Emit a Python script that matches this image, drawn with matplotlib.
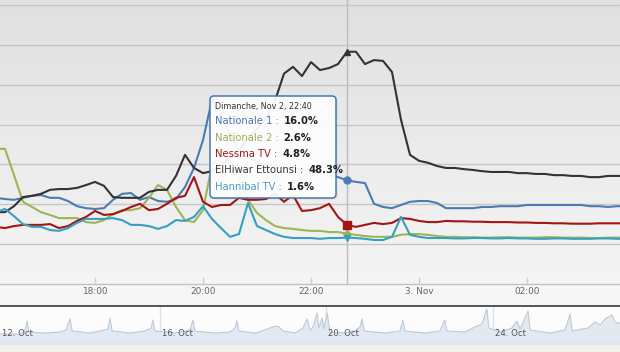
import numpy as np
import matplotlib
matplotlib.use("Agg")
import matplotlib.pyplot as plt
from matplotlib.patches import FancyBboxPatch, Rectangle
from matplotlib.lines import Line2D
from matplotlib.colors import LinearSegmentedColormap
import matplotlib.transforms as mtransforms

# ---------------- data ----------------
series_names = ["Nationale 1", "Nationale 2", "Nessma TV", "ElHiwar Ettounsi", "Hannibal TV"]

# 10-minute samples from 16:10 (2 Nov) to 03:50 (3 Nov), audience share in %
nationale1 = [11.6, 11.3, 11.1, 11.6, 12.1, 12.3,
              11.6, 11.6, 10.8, 9.5, 9.0, 8.8,
              9.0, 11.1, 12.6, 12.8, 11.1, 11.8,
              10.8, 10.6, 11.3, 14.3, 19.1, 26.1,
              36.3, 32.4, 27.4, 23.6, 21.6, 20.6,
              19.9, 19.9, 19.1, 19.1, 18.6, 18.1,
              17.8, 17.3, 16.8, 16.0, 15.6, 15.3,
              10.1, 9.3, 9.0, 9.8, 10.6, 10.8,
              10.8, 10.3, 9.0, 9.0, 9.0, 9.0,
              9.3, 9.3, 9.5, 9.5, 9.5, 9.8,
              9.8, 9.8, 9.8, 9.8, 9.8, 9.8,
              9.5, 9.5, 9.3, 9.5, 9.5]
nationale2 = [23.9, 23.9, 17.3, 10.6, 9.3, 8.0,
              7.3, 6.5, 6.5, 6.5, 5.5, 5.3,
              6.0, 7.5, 8.5, 8.5, 9.0, 11.6,
              14.8, 13.6, 9.3, 6.0, 5.5, 8.5,
              19.9, 23.6, 21.6, 16.1, 11.1, 7.8,
              6.0, 4.5, 4.0, 3.8, 3.5, 3.3,
              3.3, 3.0, 3.0, 2.6, 2.3, 2.0,
              1.8, 1.8, 1.8, 2.3, 2.5, 2.5,
              2.3, 2.0, 1.8, 1.8, 1.7, 1.7,
              1.6, 1.6, 1.7, 1.7, 1.6, 1.6,
              1.6, 1.7, 1.7, 1.6, 1.6, 1.6,
              1.5, 1.5, 1.6, 1.6, 1.6]
nessma = [4.3, 4.0, 4.5, 4.8, 4.8, 4.8,
          5.0, 4.0, 4.5, 5.8, 6.8, 8.3,
          7.3, 7.5, 8.3, 9.3, 10.1, 8.5,
          8.8, 10.1, 11.6, 12.1, 16.8, 10.6,
          9.3, 9.8, 9.8, 11.6, 11.1, 11.1,
          11.3, 12.6, 10.6, 12.3, 8.3, 8.5,
          9.0, 10.1, 6.8, 4.8, 4.3, 4.8,
          5.3, 5.0, 5.3, 6.5, 6.3, 5.8,
          5.5, 5.5, 5.8, 5.7, 5.7, 5.6,
          5.6, 5.5, 5.5, 5.5, 5.4, 5.4,
          5.3, 5.3, 5.2, 5.2, 5.1, 5.1,
          5.1, 5.2, 5.2, 5.2, 5.2]
elhiwar = [8.0, 8.0, 9.5, 11.8, 12.1, 12.6,
           13.6, 13.8, 13.8, 14.1, 14.8, 15.6,
           14.6, 11.8, 11.6, 11.6, 11.6, 13.1,
           13.6, 13.6, 17.1, 22.4, 19.1, 17.8,
           18.3, 19.9, 21.6, 23.6, 26.6, 29.0,
           31.5, 36.0, 42.8, 44.5, 42.2, 45.7,
           43.7, 44.2, 45.2, 48.3, 48.3, 45.2,
           46.2, 46.0, 43.2, 31.2, 22.4, 20.9,
           20.4, 19.6, 19.1, 19.1, 18.8, 18.6,
           18.3, 18.1, 18.1, 18.1, 17.8, 17.8,
           17.6, 17.6, 17.3, 17.3, 17.1, 17.1,
           16.8, 16.8, 17.1, 17.1, 17.1]
hannibal = [8.0, 8.8, 7.0, 5.0, 4.3, 4.3,
            3.5, 3.3, 4.0, 5.3, 6.3, 6.3,
            6.3, 6.5, 6.0, 4.8, 4.8, 4.5,
            3.8, 4.5, 6.0, 5.8, 6.8, 9.5,
            6.3, 4.0, 1.8, 2.5, 10.3, 4.5,
            3.5, 2.5, 1.8, 1.5, 1.5, 1.5,
            1.3, 1.5, 1.5, 1.6, 1.5, 1.3,
            1.0, 1.0, 1.8, 6.8, 2.3, 1.8,
            1.5, 1.5, 1.5, 1.4, 1.4, 1.5,
            1.5, 1.4, 1.4, 1.5, 1.4, 1.4,
            1.3, 1.3, 1.4, 1.4, 1.3, 1.3,
            1.3, 1.4, 1.4, 1.3, 1.3]

start_hour = 16 + 10 / 60.0
step_minutes = 10
hover_index = 39  # 22:40
tooltip_header = "Dimanche, Nov 2, 22:40"

x_tick_hours = [18, 20, 22, 24, 26]
x_tick_labels = ["18:00", "20:00", "22:00", "3. Nov", "02:00"]
y_grid = [0, 10, 20, 30, 40, 50, 60]

# navigator (days since 12 Oct 00:00) and relative level
nav_days = [-0.08, 0.64, 0.76, 0.81, 0.85, 1.24, 1.60, 1.74, 1.84, 1.89,
            2.32, 2.56, 2.75, 2.80, 2.85, 3.28, 3.64, 3.79, 3.83, 3.88,
            4.36, 4.72, 4.80, 4.84, 5.32, 5.68, 5.81, 5.85, 5.90, 6.29,
            6.53, 6.69, 6.84, 6.96, 7.25, 7.44, 7.54, 7.61, 7.68, 7.78,
            7.82, 7.90, 7.94, 8.02, 8.09, 8.45, 8.69, 8.81, 8.86, 8.91,
            9.41, 9.77, 9.84, 9.89, 10.37, 10.73, 10.85, 10.90, 11.33, 11.57,
            11.74, 11.86, 11.91, 12.18, 12.46, 12.58, 12.66, 12.85, 12.90, 13.38,
            13.74, 13.86, 13.91, 14.29, 14.46, 14.58, 14.70, 14.87, 14.94, 15.18,
            15.30]
nav_vals = [7, 7, 11, 20, 9, 8, 9, 11, 22, 10,
            8, 10, 12, 23, 10, 8, 10, 13, 21, 10,
            8, 11, 21, 10, 8, 9, 13, 20, 10, 8,
            11, 14, 15, 10, 8, 13, 22, 11, 14, 28,
            13, 23, 12, 28, 9, 8, 10, 14, 22, 10,
            8, 10, 21, 10, 8, 10, 21, 10, 9, 14,
            17, 32, 13, 9, 13, 20, 12, 30, 11, 8,
            11, 27, 10, 13, 19, 16, 22, 26, 19, 16,
            11]
nav_tick_days = [0, 4, 8, 12]
nav_tick_labels = ["12. Oct", "16. Oct", "20. Oct", "24. Oct"]

# ---------------- style ----------------
line_colors = ["#4a7cb2", "#9db552", "#a31515", "#333333", "#35a0c2"]
text_colors = ["#4a78aa", "#9aae5a", "#9e1a1a", "#3a3a3a", "#4a9ec2"]
markers = ["o", "D", "s", "^", "v"]
marker_sizes = [5.0, 4.5, 5.5, 5.0, 5.0]

W, H = 620, 352
fig = plt.figure(figsize=(W / 100, H / 100), dpi=100)
fig.patch.set_facecolor("#f6f6f6")

# pixel transform with origin at top-left
pix = mtransforms.Affine2D().scale(1.0 / W, -1.0 / H).translate(0, 1) + fig.transFigure

plot_bottom = 284
ax = fig.add_axes([0, (H - plot_bottom) / H, 1, plot_bottom / H])
px_per_hour = 54.0
xmin = 18 - 95 / px_per_hour
ax.set_xlim(xmin, xmin + W / px_per_hour)
ax.set_ylim(-10.05, 61.3)

cmap = LinearSegmentedColormap.from_list("bg", ["#e0e0e0", "#f5f5f5"])
grad = np.linspace(0, 1, 256).reshape(-1, 1)
ax.imshow(grad, cmap=cmap, extent=[0, 1, 0, 1], transform=ax.transAxes,
          aspect="auto", zorder=0, origin="upper")

for v in y_grid:
    ax.axhline(v, color="#c6c6c6", lw=1, zorder=1)

times = start_hour + np.arange(len(nationale1)) * step_minutes / 60.0
all_series = [nationale1, nationale2, nessma, elhiwar, hannibal]

ax.axvline(times[hover_index], color="#bcbcbc", lw=1, zorder=2)

for vals, c in zip(all_series, line_colors):
    ax.plot(times, vals, color=c, lw=1.5, zorder=3, solid_joinstyle="round")

for vals, c, m, ms in zip(all_series, line_colors, markers, marker_sizes):
    ax.plot([times[hover_index]], [vals[hover_index]], marker=m, ms=ms,
            color=c, mec=c, zorder=5, linestyle="none")

ax.set_xticks(x_tick_hours)
ax.set_xticklabels(x_tick_labels)
ax.set_yticks([])
ax.tick_params(axis="x", direction="in", length=5, width=1, color="#c8d2dc",
               pad=2.5, labelsize=6.4, labelcolor="#666666")
for s in ["top", "left", "right"]:
    ax.spines[s].set_visible(False)
ax.spines["bottom"].set_color("#c2c2c2")
ax.spines["bottom"].set_linewidth(1)

# ---------------- tooltip ----------------
tip = FancyBboxPatch((210, 96), 126, 102, boxstyle="round,pad=0,rounding_size=4",
                     transform=pix, facecolor=(1, 1, 1, 0.93), edgecolor="#4a78aa",
                     lw=1.1, zorder=20)
shadow = FancyBboxPatch((211.5, 97.5), 126, 102, boxstyle="round,pad=0,rounding_size=4",
                        transform=pix, facecolor=(0, 0, 0, 0.08), edgecolor="none",
                        zorder=19)
fig.add_artist(shadow)
fig.add_artist(tip)

fig.text(215, 106.5, tooltip_header, transform=pix, fontsize=5.8, color="#333333",
         va="center", ha="left", zorder=21)

row_y = [121.5, 137.7, 153.7, 170.0, 186.5]
labels = []
for name, tc, y in zip(series_names, text_colors, row_y):
    t = fig.text(215, y, name + " :", transform=pix, fontsize=7.2, color=tc,
                 va="center", ha="left", zorder=21)
    labels.append(t)

fig.canvas.draw()
renderer = fig.canvas.get_renderer()
for t, vals, y in zip(labels, all_series, row_y):
    bb = t.get_window_extent(renderer)
    fig.text(bb.x1 + 5, y, "%.1f%%" % vals[hover_index], transform=pix, fontsize=7.2,
             color="#222222", fontweight="bold", va="center", ha="left", zorder=21)

# ---------------- navigator ----------------
fig.add_artist(Rectangle((0, 341), W, 4, transform=pix, facecolor="#e2e6ec",
                         edgecolor="none", zorder=0))
fig.add_artist(Rectangle((0, 345), W, 7, transform=pix, facecolor="#f2f2ec",
                         edgecolor="none", zorder=0))

nav_top, nav_bottom = 307, 341
nax = fig.add_axes([0, (H - nav_bottom) / H, 1, (nav_bottom - nav_top) / H])
nax.set_facecolor("#fcfcfc")
px_per_day = 41.6
dmin = 6.5 / px_per_day
nax.set_xlim(dmin, dmin + W / px_per_day)
nax.set_ylim(0, 34)
for d in nav_tick_days:
    nax.axvline(d, color="#e0e0e0", lw=1, zorder=1)
nax.fill_between(nav_days, nav_vals, 0, color="#e3e9f1", lw=0, zorder=2)
nax.plot(nav_days, nav_vals, color="#bccadb", lw=0.8, zorder=3)
for d, lab in zip(nav_tick_days, nav_tick_labels):
    xd = max(d, dmin)
    nax.annotate(lab, xy=(xd, 0.235), xycoords=("data", "axes fraction"),
                 xytext=(1.5, 0), textcoords="offset points", ha="left", va="center",
                 fontsize=6.1, color="#555555", zorder=4)
nax.set_xticks([])
nax.set_yticks([])
for s in nax.spines.values():
    s.set_visible(False)

fig.add_artist(Line2D([0, W], [306, 306], transform=pix, color="#555555", lw=1.4, zorder=5))

fig.savefig("out.png", dpi=100, facecolor=fig.get_facecolor())
